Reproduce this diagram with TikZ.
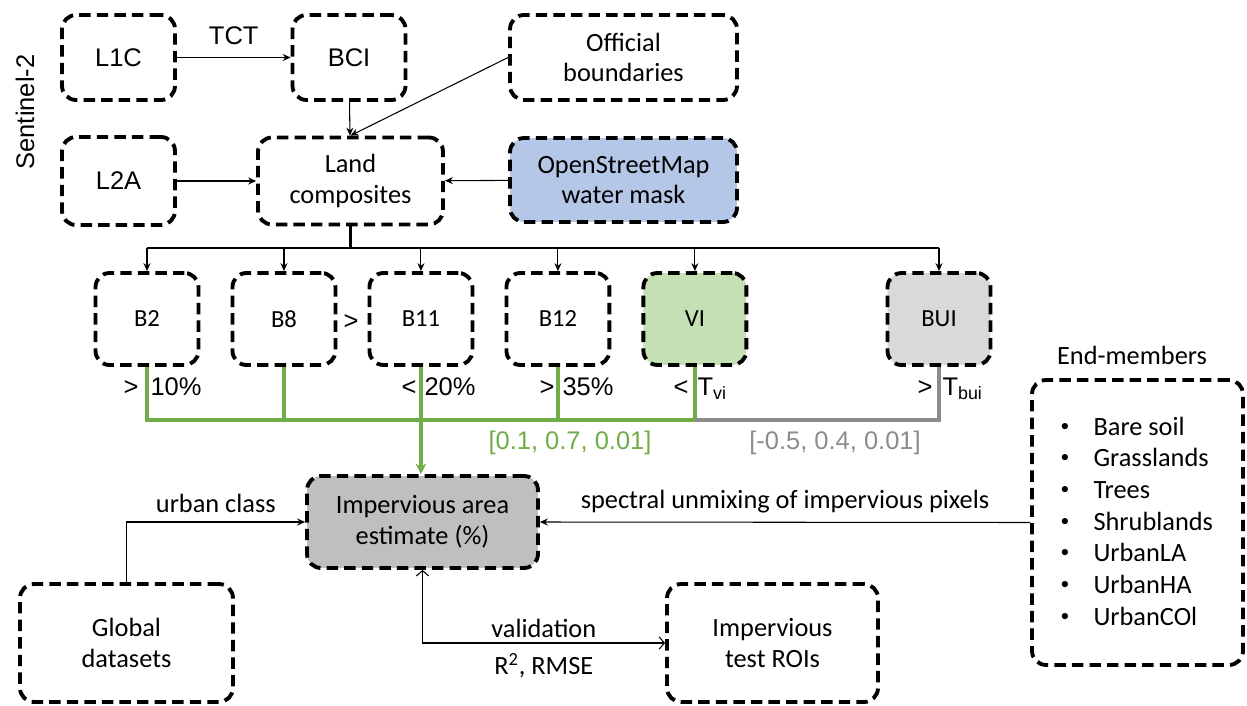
\documentclass[tikz,border=0pt]{standalone}
\usepackage{fontspec}
\setmainfont{Carlito}
\newfontfamily\arial{Liberation Sans}
\usetikzlibrary{arrows.meta,positioning}

\definecolor{osmblue}{HTML}{B4C7E7}
\definecolor{vigreen}{HTML}{C5E0B4}
\definecolor{buigray}{HTML}{D9D9D9}
\definecolor{impgray}{HTML}{BFBFBF}
\definecolor{thrgreen}{HTML}{70AD47}
\definecolor{thrgray}{HTML}{8C8C8C}

\begin{document}
\begin{tikzpicture}[x=0.02cm, y=-0.02cm, >={Stealth[length=4.5pt,width=4pt]},
                    line width=0.6pt, node distance=2.74cm]
  \tikzstyle{box}=[draw=black, line width=2.2pt, dash pattern=on 6.5pt off 3.5pt,
                   rounded corners=8pt, align=center, inner sep=0pt,
                   font=\fontsize{15}{17.5}\selectfont]
  \tikzstyle{boxA}=[box, font=\arial\fontsize{14.5}{17}\selectfont,
                    minimum width=2.26cm]
  \tikzstyle{band}=[box, minimum width=2.06cm, minimum height=1.84cm,
                    font=\fontsize{14}{16}\selectfont]
  \tikzstyle{lbl}=[inner sep=0pt, font=\arial\fontsize{14.5}{17}\selectfont]
  \tikzstyle{note}=[inner sep=0pt, font=\fontsize{15}{17.5}\selectfont]
  \tikzstyle{thr}=[line width=1.9pt, draw=thrgreen]

  \useasboundingbox (0,0) rectangle (1247,706);

  % Sentinel-2 inputs
  \node[lbl, rotate=90]                          (s2)   at (25,112)    {Sentinel-2};
  \node[boxA, minimum height=1.7cm]              (L1C)  at (118.5,57.5) {L1C};
  \node[boxA, minimum height=1.7cm]              (BCI)  at (349,57.5)  {BCI};
  \node[box, minimum width=4.54cm, minimum height=1.7cm]
                                                 (Off)  at (623.5,57.5) {Official\\boundaries};
  \node[boxA, minimum height=1.76cm]             (L2A)  at (118.5,181) {L2A};
  \node[box, minimum width=3.7cm, minimum height=1.74cm]
                                                 (Land) at (350.5,181) {Land\\composites};
  \node[box, fill=osmblue, minimum width=4.54cm, minimum height=1.68cm]
                                                 (OSM)  at (623.5,180) {OpenStreetMap\\water mask};

  \draw[->] (L1C) -- node[lbl, above=7pt] (tct) {TCT} (BCI);
  \draw[->] (BCI) -- (Land);
  \draw[->] (Off.west) -- (Land.north);
  \draw[->] (L2A) -- (Land);
  \draw[->] (OSM) -- (Land);

  % bands and indices
  \node[band]                                    (B2)   at (147,319)   {B2};
  \node[band]                                    (B8)   [right of=B2]  {B8};
  \node[band]                                    (B11)  [right of=B8]  {B11};
  \node[band]                                    (B12)  [right of=B11] {B12};
  \node[band, fill=vigreen]                      (VI)   [right of=B12] {VI};
  \node[band, fill=buigray]                      (BUI)  at (939,319)   {BUI};
  \node[lbl]                                     (gt)   at (351,322)   {>};

  \coordinate (hub)  at (350.5,248);
  \coordinate (rail) at (0,420);
  \draw[line width=1.6pt] (Land.south) -- (hub);
  \draw (B2.north |- hub) -- (BUI.north |- hub);
  \foreach \b in {B2,B8,B11,B12,VI,BUI}
    \draw[->] (\b.north |- hub) -- (\b.north);

  % thresholds
  \draw[thr] (B2.south) |- (VI.south |- rail) -- (VI.south);
  \draw[thr] (B8.south) -- (B8.south |- rail);
  \draw[thr] (B12.south) -- (B12.south |- rail);
  \draw[line width=1.9pt, draw=thrgray] (VI.south |- rail) -| (BUI.south);

  \node[lbl, anchor=base east] (opB2)  at (139,395) {>};
  \node[lbl, anchor=base west] (thB2)  at (150,395) {10\%};
  \node[lbl, anchor=base east] (opB11) at (417,395) {<};
  \node[lbl, anchor=base west] (thB11) at (424,395) {20\%};
  \node[lbl, anchor=base east] (opB12) at (555,395) {>};
  \node[lbl, anchor=base west] (thB12) at (562,395) {35\%};
  \node[lbl, anchor=base east] (opVI)  at (689,395) {<};
  \node[lbl, anchor=base west] (thVI)  at (697,395) {T\textsubscript{vi}};
  \node[lbl, anchor=base east] (opBUI) at (933,395) {>};
  \node[lbl, anchor=base west] (thBUI) at (942,395) {T\textsubscript{bui}};
  \node[lbl, text=thrgreen]    (rgVI)  at (570,443) {[0.1, 0.7, 0.01]};
  \node[lbl, text=thrgray]     (rgBUI) at (835,443) {[-0.5, 0.4, 0.01]};

  % estimate and its sources
  \node[box, fill=impgray, minimum width=4.62cm, minimum height=1.84cm]
                                                 (Imp)  at (422.5,522) {Impervious area\\estimate (\%)};
  \node[box, minimum width=4.26cm, minimum height=2.36cm]
                                                 (Glob) at (126.5,643) {Global\\datasets};
  \node[box, minimum width=4.22cm, minimum height=2.36cm]
                                                 (ROI)  at (772.5,643) {Impervious\\test ROIs};
  \node[box, minimum width=4.22cm, minimum height=5.7cm]
                                                 (EM)   at (1137.5,522.5) {};
  \node[note]                                    (emt)  at (1132,355) {End-members};
  \foreach \t [count=\i from 0] in {Bare soil,Grasslands,Trees,Shrublands,UrbanLA,UrbanHA,UrbanCOl} {
    \node[note, font=\fontsize{10}{12}\selectfont] at (1065,427+31.7*\i) {\textbullet};
    \node[note, anchor=base west] at (1093,435+31.7*\i) {\t};
  }

  \draw[thr, -{Stealth[length=6pt,width=6pt]}] (B11.south) -- (B11.south |- Imp.north);
  \draw[->] (Glob.north) |- node[note, pos=0.75, above=5pt] {urban class} (Imp.west);
  \draw[->] (EM.west) -- node[note, above=5pt] {spectral unmixing of impervious pixels} (Imp.east);
  \draw[{Straight Barb[length=3pt,width=7pt]}-{Straight Barb[length=3pt,width=7pt]}]
    (Imp.south) |- node[note, pos=0.75, above=2.5pt] {validation}
                   node[note, pos=0.75, below=5.5pt] {R\textsuperscript{2}, RMSE} (ROI.west);
\end{tikzpicture}
\end{document}
